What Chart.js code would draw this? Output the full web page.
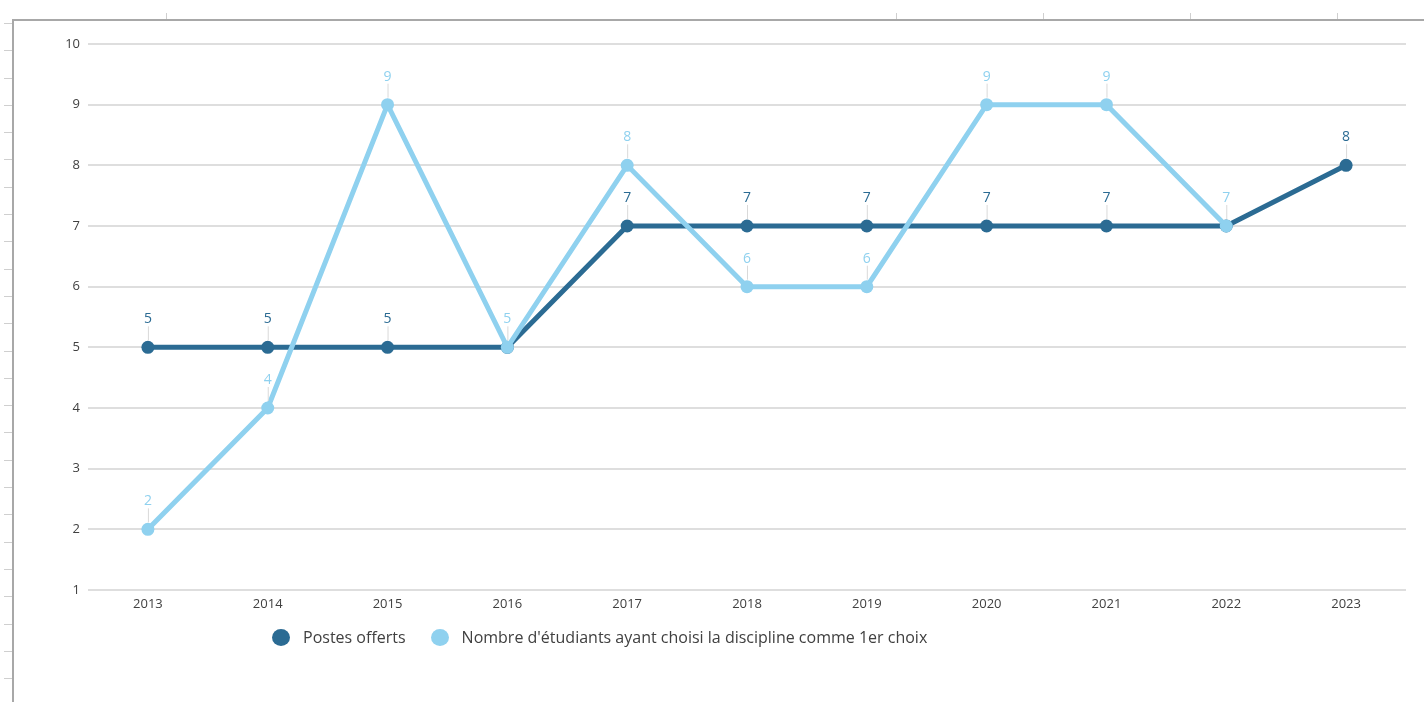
<!DOCTYPE html>
<html>
<head>
<meta charset="utf-8">
<script src="https://cdn.jsdelivr.net/npm/chart.js@4"></script>
<style>
  html, body { margin: 0; padding: 0; background: #fff; }
  body { width: 1424px; height: 702px; position: relative; overflow: hidden; font-family: "Open Sans", sans-serif; }
  .frame { position: absolute; left: 12px; top: 19px; right: 0; bottom: 0; border-left: 2px solid #a8a8a8; border-top: 2px solid #a8a8a8; }
  .ruler-left { position: absolute; left: 4px; top: 22px; width: 8px; bottom: 0;
    background: repeating-linear-gradient(to bottom, transparent 0, transparent 1px, #cfcfcf 1px, #cfcfcf 2px, transparent 2px, transparent 27.3px); }
  .tick-top { position: absolute; top: 13px; width: 1px; height: 6px; background: #cfcfcf; }
  .wrap { position: absolute; left: 0; top: 0; width: 1424px; height: 702px; }
  #legend { position: absolute; top: 626px; left: 272px; display: flex; align-items: center; font-size: 16px; color: #404040; }
  #legend .item { display: flex; align-items: center; margin-right: 25px; }
  #legend .dot { width: 18px; height: 17px; border-radius: 50%; margin-right: 13px; }
</style>
</head>
<body>
<div class="frame"></div>
<div class="ruler-left"></div>
<div class="tick-top" style="left:166px"></div>
<div class="tick-top" style="left:896px"></div>
<div class="tick-top" style="left:1043px"></div>
<div class="tick-top" style="left:1190px"></div>
<div class="tick-top" style="left:1337px"></div>
<div class="wrap"><canvas id="chart"></canvas></div>
<div id="legend"></div>
<script>
let years = ["2013", "2014", "2015", "2016", "2017", "2018", "2019", "2020", "2021", "2022", "2023"];
let postesOfferts = [5, 5, 5, 5, 7, 7, 7, 7, 7, 7, 8];
let nombreEtudiants = [2, 4, 9, 5, 8, 6, 6, 9, 9, 7, null];
let yTicks = [1, 2, 3, 4, 5, 6, 7, 8, 9, 10];

let darkBlue = "#2b6b93";
let lightBlue = "#8fd1ef";

// labels above points, with a small leader line
const pointLabels = {
  id: "pointLabels",
  afterDatasetsDraw(chart) {
    const ctx = chart.ctx;
    ctx.save();
    chart.data.datasets.forEach((ds, i) => {
      const meta = chart.getDatasetMeta(i);
      meta.data.forEach((pt, j) => {
        const v = ds.data[j];
        if (v == null) return;
        // light label wins where both series meet
        if (i === 0 && nombreEtudiants[j] === v) return;
        ctx.strokeStyle = "#d9d9d9";
        ctx.lineWidth = 1;
        ctx.beginPath();
        ctx.moveTo(pt.x + 0.5, pt.y - 21);
        ctx.lineTo(pt.x + 0.5, pt.y - 7);
        ctx.stroke();
        ctx.fillStyle = ds.borderColor;
        ctx.font = "14px 'Open Sans'";
        ctx.textAlign = "center";
        ctx.textBaseline = "middle";
        ctx.fillText(v, pt.x, pt.y - 28);
      });
    });
    ctx.restore();
  }
};

let ctx = document.getElementById("chart").getContext("2d");
let chart = new Chart(ctx, {
  type: "line",
  data: {
    labels: years,
    datasets: [
      {
        label: "Postes offerts",
        data: postesOfferts,
        borderColor: darkBlue,
        backgroundColor: darkBlue,
        borderWidth: 5,
        pointRadius: 6.5,
        pointHoverRadius: 6.5,
        pointBorderWidth: 0,
        order: 1,
      },
      {
        label: "Nombre d'étudiants ayant choisi la discipline comme 1er choix",
        data: nombreEtudiants,
        borderColor: lightBlue,
        backgroundColor: lightBlue,
        borderWidth: 5,
        pointRadius: 6.5,
        pointHoverRadius: 6.5,
        pointBorderWidth: 0,
        order: 0,
      },
    ],
  },
  options: {
    responsive: true,
    maintainAspectRatio: false,
    animation: false,
    layout: { padding: { top: 44, right: 18, left: 0, bottom: 0 } },
    plugins: {
      legend: { display: false },
      tooltip: { enabled: false },
    },
    scales: {
      x: {
        offset: true,
        grid: { display: false },
        border: { display: false },
        ticks: {
          color: "#404040",
          font: { family: "Open Sans", size: 13 },
          padding: -2,
          maxRotation: 0,
        },
        afterFit(scale) { scale.height = 112; },
      },
      y: {
        min: yTicks[0],
        max: yTicks[yTicks.length - 1],
        afterBuildTicks(scale) { scale.ticks = yTicks.map((v) => ({ value: v })); },
        grid: { color: "#dedede", lineWidth: 2, drawTicks: false },
        border: { display: false },
        ticks: {
          color: "#404040",
          font: { family: "Open Sans", size: 13 },
          padding: 8,
        },
        afterFit(scale) { scale.width = 88; },
      },
    },
  },
  plugins: [pointLabels],
});

// html legend
let legend = document.getElementById("legend");
chart.data.datasets.forEach((ds) => {
  let item = document.createElement("div");
  item.className = "item";
  item.innerHTML = `<span class="dot" style="background:${ds.backgroundColor}"></span><span>${ds.label}</span>`;
  legend.appendChild(item);
});
</script>
</body>
</html>
